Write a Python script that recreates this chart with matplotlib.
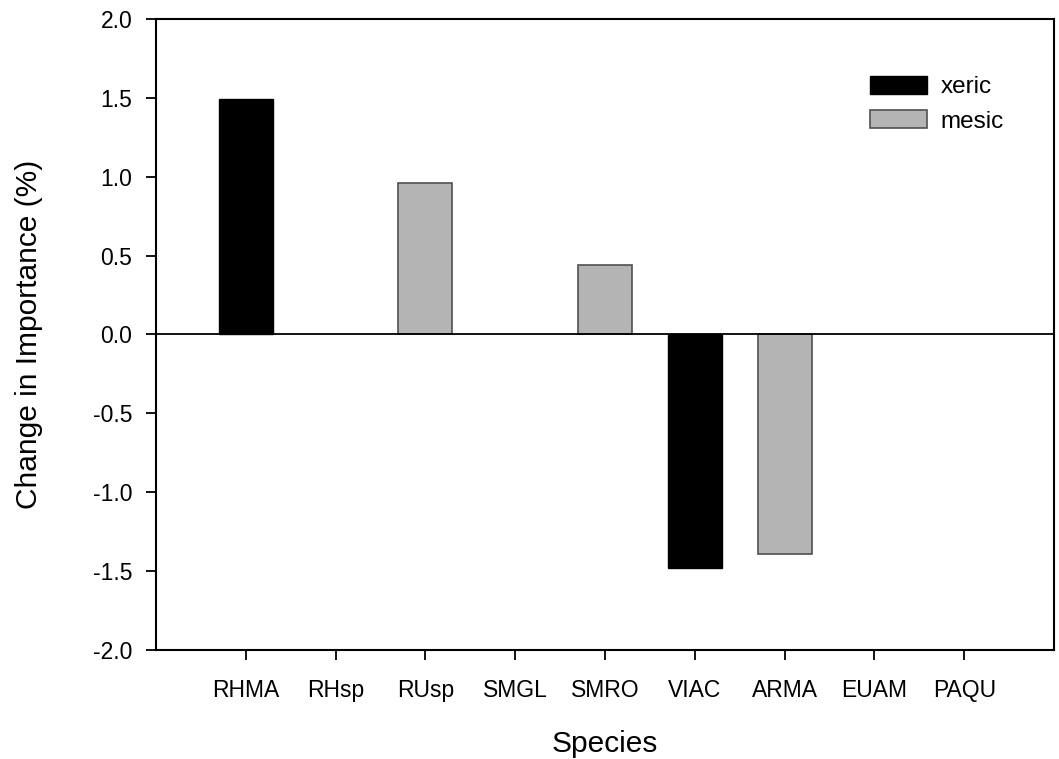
import numpy as np
import matplotlib
matplotlib.use("Agg")
import matplotlib.pyplot as plt

plt.rcParams['font.family'] = ['Liberation Sans', 'DejaVu Sans']

species = ['RHMA', 'RHsp', 'RUsp', 'SMGL', 'SMRO', 'VIAC', 'ARMA', 'EUAM', 'PAQU']
xeric = [1.49, np.nan, np.nan, np.nan, np.nan, -1.48, np.nan, np.nan, np.nan]
mesic = [np.nan, np.nan, 0.96, np.nan, 0.44, np.nan, -1.39, np.nan, np.nan]
yticks = [-2.0, -1.5, -1.0, -0.5, 0.0, 0.5, 1.0, 1.5, 2.0]

fig = plt.figure(figsize=(10.59, 7.59), dpi=100)
ax = fig.add_axes([0.1473, 0.1436, 0.8480, 0.8314])

x = np.arange(len(species))
ax.bar(x, xeric, width=0.6, color='black', edgecolor='black', linewidth=1.0, label='xeric', zorder=2)
ax.bar(x, mesic, width=0.6, color='#b4b4b4', edgecolor='#505050', linewidth=1.2, label='mesic', zorder=2)
ax.axhline(0, color='black', lw=1.3, zorder=3)

ax.set_xlim(-1, 9)
ax.set_ylim(-2, 2)
ax.set_xticks(x)
ax.set_xticklabels(species)
ax.set_yticks(yticks)
ax.set_yticklabels([f'{v:.1f}' for v in yticks])

for s in ax.spines.values():
    s.set_linewidth(1.5)
ax.tick_params(axis='both', direction='out', length=7, width=1.3, labelsize=16.5, color='black')
ax.tick_params(axis='y', pad=10)
ax.tick_params(axis='x', pad=14)

ax.set_xlabel('Species', fontsize=21.5, labelpad=20)
ax.set_ylabel('Change in Importance (%)', fontsize=21.5, labelpad=36)

ax.legend(loc='upper left', bbox_to_anchor=(0.795, 0.91), frameon=False, fontsize=17.5,
          handlelength=2.35, handleheight=0.75, handletextpad=0.55, labelspacing=0.5,
          borderpad=0, borderaxespad=0)

fig.savefig('out.png', dpi=100)
